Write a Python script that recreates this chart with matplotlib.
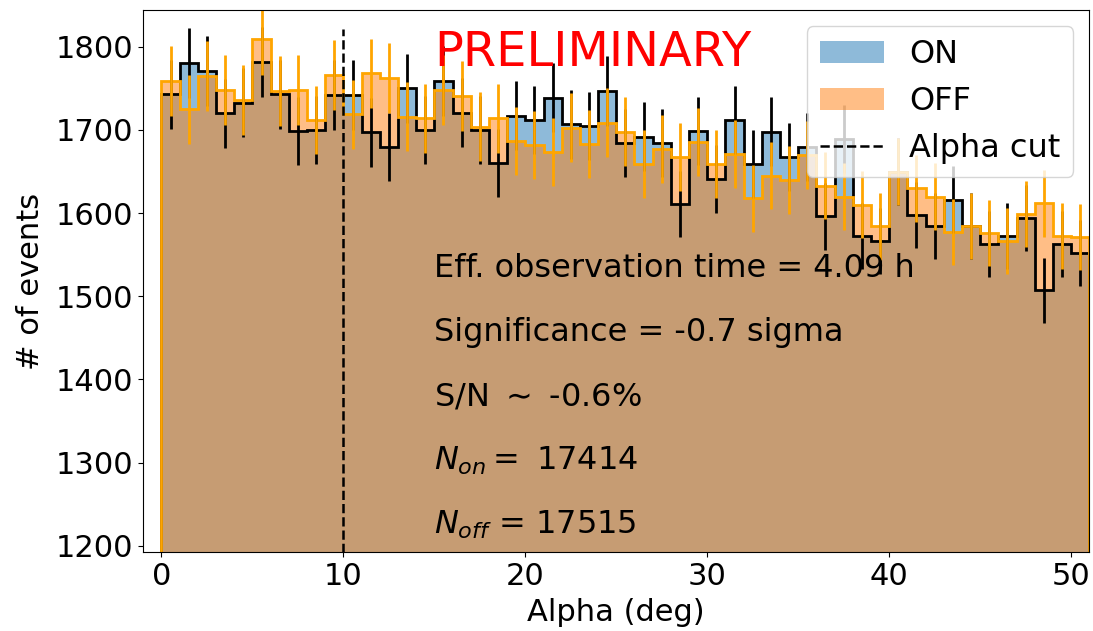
import numpy as np
import matplotlib
matplotlib.use('Agg')
import matplotlib.pyplot as plt

# alpha histogram, 1 deg bins starting at 0
BIN_EDGES = np.arange(0, 52, 1.0)
ON_COUNTS = [1743, 1781, 1771, 1720, 1733, 1782, 1743, 1699, 1700, 1742,
             1742, 1697, 1680, 1750, 1700, 1759, 1721, 1700, 1660, 1717,
             1712, 1739, 1707, 1705, 1747, 1684, 1692, 1684, 1611, 1699,
             1641, 1712, 1659, 1698, 1668, 1680, 1596, 1689, 1572, 1566,
             1650, 1598, 1585, 1616, 1585, 1563, 1572, 1594, 1507, 1563, 1552]
OFF_COUNTS = [1759, 1725, 1765, 1748, 1736, 1809, 1747, 1748, 1712, 1766,
              1719, 1768, 1763, 1716, 1714, 1748, 1741, 1704, 1714, 1687,
              1682, 1673, 1703, 1683, 1709, 1698, 1659, 1677, 1668, 1686,
              1659, 1671, 1618, 1645, 1640, 1670, 1633, 1620, 1610, 1584,
              1650, 1630, 1620, 1577, 1585, 1576, 1566, 1599, 1612, 1572, 1571]
ALPHA_CUT = 10
CUT_TOP = 1822

INFO_LINES = [
    'Eff. observation time = 4.09 h',
    'Significance = -0.7 sigma',
    r'S/N $\sim$ -0.6%',
    r'$N_{on} = $ 17414',
    r'$N_{off}$ = 17515',
]
INFO_Y = [1523, 1446, 1369, 1291, 1214]

on = np.asarray(ON_COUNTS, dtype=float)
off = np.asarray(OFF_COUNTS, dtype=float)
left = BIN_EDGES[:-1]
centers = 0.5 * (BIN_EDGES[:-1] + BIN_EDGES[1:])

fig = plt.figure(figsize=(10.93, 6.31), dpi=100)
ax = fig.add_axes([0.1311, 0.1247, 0.8655, 0.859])

ax.hist(left, bins=BIN_EDGES, weights=on, alpha=0.5, color='tab:blue', label='ON')
ax.hist(left, bins=BIN_EDGES, weights=off, alpha=0.5, color='tab:orange', label='OFF')
ax.hist(left, bins=BIN_EDGES, weights=on, histtype='step', color='black', linewidth=2)
ax.hist(left, bins=BIN_EDGES, weights=off, histtype='step', color='orange', linewidth=2)
ax.errorbar(centers, on, yerr=np.sqrt(on), fmt='none', ecolor='black', elinewidth=2)
ax.errorbar(centers, off, yerr=np.sqrt(off), fmt='none', ecolor='orange', elinewidth=2)

ax.vlines(ALPHA_CUT, 1000, CUT_TOP, colors='black', linestyles='--', linewidth=1.8,
          label='Alpha cut')

ax.text(15, 1777, 'PRELIMINARY', color='red', fontsize=34.5)
for s, y in zip(INFO_LINES, INFO_Y):
    ax.text(15, y, s, fontsize=23, va='baseline')

ax.set_xlim(-1, 51)
ax.set_ylim(1192, 1844)
ax.set_xlabel('Alpha (deg)', fontsize=22, labelpad=5)
ax.set_ylabel('# of events', fontsize=22, labelpad=8)
ax.tick_params(labelsize=22)
ax.legend(loc='upper right', fontsize=23)

fig.savefig('out.png', dpi=100)
